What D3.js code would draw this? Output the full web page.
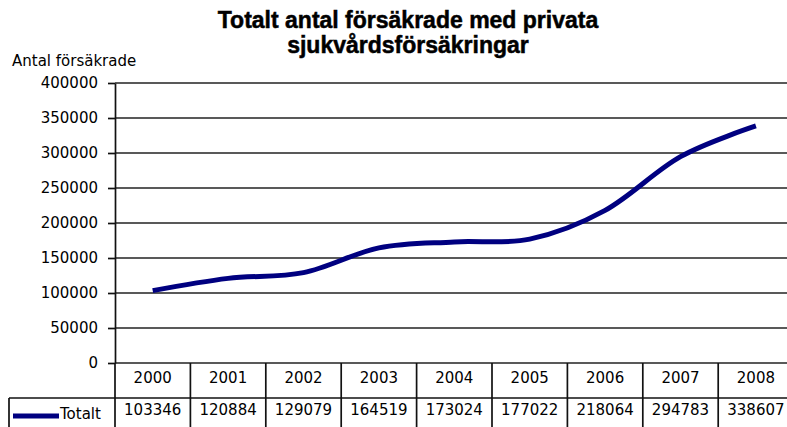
<!DOCTYPE html>
<html>
<head>
<meta charset="utf-8">
<script src="https://cdn.jsdelivr.net/npm/d3@7"></script>
<style>
  body { margin: 0; background: #fff; }
  text { fill: #000; }
</style>
</head>
<body>
<div id="chart"></div>
<script>
// data
const years  = ['2000', '2001', '2002', '2003', '2004', '2005', '2006', '2007', '2008'];
const totalt = [103346, 120884, 129079, 164519, 173024, 177022, 218064, 294783, 338607];
const yTicks = [0, 50000, 100000, 150000, 200000, 250000, 300000, 350000, 400000];
const seriesName = 'Totalt';
const titleLines = ['Totalt antal försäkrade med privata', 'sjukvårdsförsäkringar'];
const yLabel = 'Antal försäkrade';

var width  = 787;
var height = 427;

const svg = d3.select('#chart').append('svg')
	.attr('width', width)
	.attr('height', height);

const x = d3.scaleBand()
	.domain(years)
	.range([115, 793.6]);

const y = d3.scaleLinear()
	.domain([0, 400000])
	.range([363, 83]);

const small = 'DejaVu Sans, Verdana, sans-serif';

// title
svg.selectAll('text.title')
	.data(titleLines)
	.enter()
	.append('text')
	.attr('class', 'title')
	.attr('x', 408)
	.attr('y', (d, i) => 28 + i * 25)
	.attr('text-anchor', 'middle')
	.attr('stroke', '#000')
	.attr('stroke-width', 0.5)
	.style('font-family', 'Liberation Sans, Arial, sans-serif')
	.style('font-weight', 'bold')
	.style('font-size', '23px')
	.text(d => d);

// y axis label
svg.append('text')
	.attr('x', 12)
	.attr('y', 66)
	.style('font-family', small)
	.style('font-size', '15px')
	.text(yLabel);

// gridlines
svg.append('g')
	.selectAll('line')
	.data(yTicks)
	.enter()
	.append('line')
	.attr('x1', x.range()[0])
	.attr('x2', x.range()[1])
	.attr('y1', d => y(d))
	.attr('y2', d => y(d))
	.attr('stroke', '#222')
	.attr('stroke-width', 1.7);

// y axis
const yAxis = svg.append('g')
	.attr('transform', 'translate(115,0)')
	.call(d3.axisLeft(y)
		.tickValues(yTicks)
		.tickSize(7)
		.tickSizeOuter(0)
		.tickPadding(10)
		.tickFormat(d3.format('d')));
yAxis.selectAll('path, line')
	.attr('stroke', '#111')
	.attr('stroke-width', 1.7);
yAxis.selectAll('text')
	.style('font-family', small)
	.style('font-size', '15px')
	.attr('fill', '#000');

// data table under the plot
const table = svg.append('g');
const edges = years.map(d => x(d)).concat([x.range()[1]]);

table.selectAll('line.col')
	.data(edges)
	.enter()
	.append('line')
	.attr('class', 'col')
	.attr('x1', d => d)
	.attr('x2', d => d)
	.attr('y1', 363)
	.attr('y2', height)
	.attr('stroke', '#111')
	.attr('stroke-width', 1.7);

table.append('line')
	.attr('x1', 9)
	.attr('x2', x.range()[1])
	.attr('y1', 398)
	.attr('y2', 398)
	.attr('stroke', '#111')
	.attr('stroke-width', 1.7);

table.append('line')
	.attr('x1', 9)
	.attr('x2', 9)
	.attr('y1', 398)
	.attr('y2', height)
	.attr('stroke', '#111')
	.attr('stroke-width', 1.7);

table.selectAll('text.year')
	.data(years)
	.enter()
	.append('text')
	.attr('class', 'year')
	.attr('x', d => x(d) + x.bandwidth() / 2)
	.attr('y', 383)
	.attr('text-anchor', 'middle')
	.style('font-family', small)
	.style('font-size', '15px')
	.text(d => d);

table.selectAll('text.value')
	.data(totalt)
	.enter()
	.append('text')
	.attr('class', 'value')
	.attr('x', (d, i) => x(years[i]) + x.bandwidth() / 2)
	.attr('y', 415)
	.attr('text-anchor', 'middle')
	.style('font-family', small)
	.style('font-size', '15px')
	.text(d => d);

// legend key in the table
table.append('line')
	.attr('x1', 13)
	.attr('x2', 59)
	.attr('y1', 416)
	.attr('y2', 416)
	.attr('stroke', '#000080')
	.attr('stroke-width', 5);

table.append('text')
	.attr('x', 60)
	.attr('y', 419)
	.style('font-family', small)
	.style('font-size', '15px')
	.text(seriesName);

// smoothed line
const line = d3.line()
	.x((d, i) => x(years[i]) + x.bandwidth() / 2)
	.y(d => y(d))
	.curve(d3.curveCardinal.tension(0));

svg.append('path')
	.datum(totalt)
	.attr('d', line)
	.attr('fill', 'none')
	.attr('stroke', '#000080')
	.attr('stroke-width', 5)
	.attr('stroke-linejoin', 'round');
</script>
</body>
</html>
